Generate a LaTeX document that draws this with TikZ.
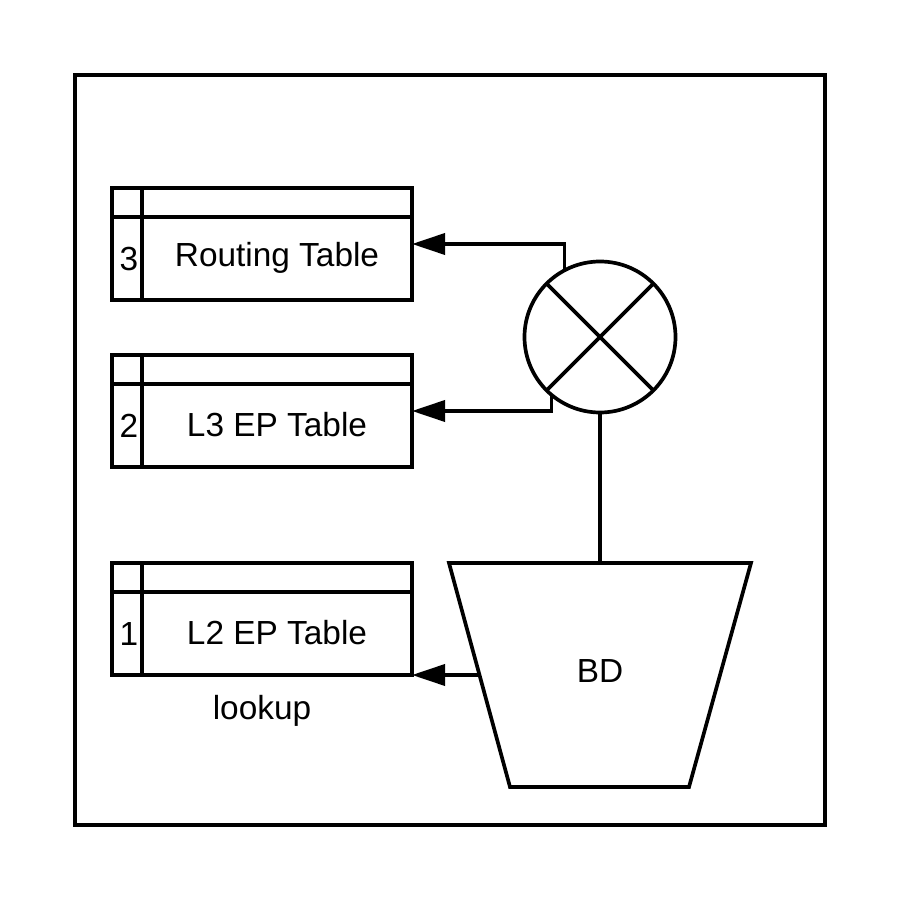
\documentclass[tikz,border=0pt]{standalone}
\usepackage{fontspec}
\setmainfont{Liberation Sans}
\usetikzlibrary{arrows.meta}
\usetikzlibrary{positioning,calc}

\tikzset{
  conn/.style={line width=1.05pt},
  arr/.style={conn,-{Triangle[length=3.3mm,width=2.1mm]}},
  lbox/.style={draw,conn,minimum width=3cm,minimum height=1.12cm,inner sep=0pt,outer sep=0pt},
}

\begin{document}
\begin{tikzpicture}[font=\fontsize{9.5}{11}\selectfont]
    \useasboundingbox (0,0) rectangle (9,9);
    \draw[conn] (0.75,0.75) rectangle (8.25,8.25);
    % lookup tables, header row and index column
    \foreach \name/\num/\y/\txt in {tab3/3/6.56/Routing Table,tab2/2/4.89/L3 EP Table,tab1/1/2.81/L2 EP Table}{
      \node[lbox] (\name) at (2.62,\y) {};
      \draw[conn] ($(\name.north west)+(0,-0.29)$) -- ($(\name.north east)+(0,-0.29)$);
      \draw[conn] ($(\name.north west)+(0.3,0)$) -- ($(\name.south west)+(0.3,0)$);
      \node[anchor=east,inner sep=0.03cm] (\name-num) at ($(\name.south west)+(0.3,0.41)$) {\num};
      \node (\name-txt) at ($(\name.south west)+(1.65,0.42)$) {\txt};
    }
    \node (lookup) at (2.62,1.89) {lookup};
    % crossed circle
    \node[draw,conn,circle,minimum size=1.51cm,inner sep=0pt,outer sep=0pt] (mux) at (6.0,5.63) {};
    \draw[conn] (mux.45) -- (mux.225);
    \draw[conn] (mux.135) -- (mux.315);
    % bridge domain
    \coordinate (bd-tl) at (4.49,3.37);
    \coordinate (bd-tr) at (7.51,3.37);
    \coordinate (bd-br) at (6.89,1.13);
    \coordinate (bd-bl) at (5.10,1.13);
    \draw[conn,line join=miter] (bd-tl) -- (bd-tr) -- (bd-br) -- (bd-bl) -- cycle;
    \node (bd) at (6.0,2.29) {BD};
    \coordinate (bd-w) at ($(bd-tl)!0.5!(bd-bl)$);
    \draw[conn] (mux.south) -- (mux.south |- bd-tl);
    \draw[arr] (bd-w) -- (tab1.south east);
    \draw[arr] (mux.118) |- (tab3.east);
    \draw[arr] (mux.230) |- (tab2.east);
\end{tikzpicture}
\end{document}
